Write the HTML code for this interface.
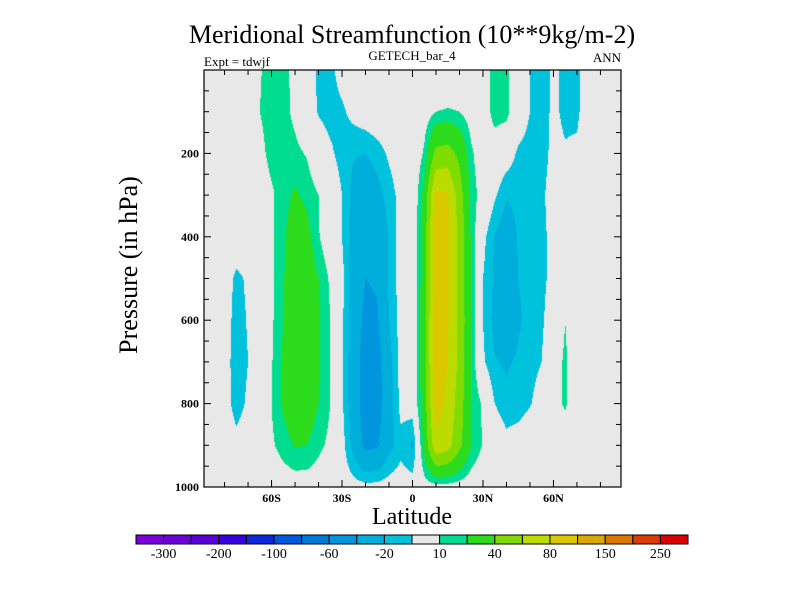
<!DOCTYPE html>
<html><head><meta charset="utf-8">
<style>
body{margin:0;background:#fff;}
#wrap{position:relative;width:800px;height:600px;overflow:hidden;font-family:"Liberation Serif",serif;}
svg{position:absolute;left:0;top:0;}
canvas{position:absolute;left:204px;top:70px;}
</style></head>
<body>
<div id="wrap">
<canvas id="cv" width="417" height="417"></canvas>
<svg id="sv" width="800" height="600" xmlns="http://www.w3.org/2000/svg">
<text x="412" y="43" font-size="26" text-anchor="middle" font-family="Liberation Serif">Meridional Streamfunction (10**9kg/m-2)</text>
<text x="412" y="60" font-size="13" text-anchor="middle" font-family="Liberation Serif">GETECH_bar_4</text>
<text x="204" y="66" font-size="13" font-family="Liberation Serif">Expt = tdwjf</text>
<text x="621" y="62" font-size="13" text-anchor="end" font-family="Liberation Serif">ANN</text>
<text transform="translate(137,265) rotate(-90)" font-size="26" text-anchor="middle" font-family="Liberation Serif">Pressure (in hPa)</text>
<text x="412" y="524" font-size="24" text-anchor="middle" font-family="Liberation Serif">Latitude</text>
<g id="axes"></g>
<g id="cbar"></g>
</svg>
</div>
<script>
const lats=[-90,-85,-80,-75,-70,-65,-60,-55,-50,-45,-40,-35,-30,-25,-20,-15,-10,-5,0,5,10,15,20,25,30,35,40,45,50,55,60,65,70,75,80,85,90];
const pressures=[0,100,200,300,400,500,600,700,800,900,1000];
const psi0  =[0,0,0,0,0,9,15,14,6,-4,-12,-13,-5,0,0,0,0,0,-4,0,0,0,0,0,2,15,14,-2,-10,-14,-8,-12,-12,-3,0,0,0];
const psi100=[0,0,0,0,0,10,15,14,7,-3,-11,-14,-12,-6,-2,0,0,0,-2,3,10,11,10,4,2,15,14,-2,-10,-14,-8,-12,-12,-3,0,0,0];
const psi200=[0,0,0,0,0,6,14,15,13,9,-2,-8,-14,-19,-20,-15,-8,-3,-2,12,45,48,35,12,2,2,-3,-12,-14,-14,-7,-9,-8,-2,0,0,0];
const psi300=[0,0,0,0,0,2,8,16,22,17,10,0,-10,-25,-32,-25,-15,-6,-2,25,85,82,50,15,5,-8,-19,-17,-14,-12,-5,0,0,0,0,0,0];
const psi400=[0,0,0,0,0,2,8,18,28,25,11,0,-10,-28,-40,-38,-18,-5,-2,30,92,82,55,18,-6,-21,-28,-19,-16,-13,-6,0,0,0,0,0,0];
const psi500=[0,0,-2,-13,-8,2,8,19,30,30,20,8,-6,-28,-40,-38,-18,-5,-2,30,92,82,55,18,-10,-22,-30,-20,-16,-13,-6,0,0,0,0,0,0];
const psi600=[0,0,-3,-15,-9,2,8,20,31,32,22,10,-8,-28,-45,-42,-20,-5,-2,32,95,82,55,20,-10,-24,-32,-22,-16,-12,-2,10,0,0,0,0,0];
const psi700=[0,0,-4,-16,-10,2,9,22,31,31,22,10,-8,-30,-50,-48,-25,-6,-3,32,95,80,55,18,-8,-19,-22,-18,-14,-10,4,12,0,0,0,0,0];
const psi800=[0,0,-4,-15,-8,3,10,22,30,30,20,10,-8,-30,-50,-48,-28,-6,-3,30,88,75,50,20,8,-10,-16,-15,-11,-4,5,12,0,0,0,0,0];
const psi900=[0,0,0,-6,-2,2,8,15,21,20,13,7,-5,-25,-45,-42,-25,-14,-22,25,75,68,45,20,9,0,-6,-4,0,0,0,0,0,0,0,0,0];
const psi1000=[0,0,0,0,0,0,0,2,3,3,2,0,-3,-5,-6,-6,-4,-3,-4,4,5,5,4,2,0,0,0,0,0,0,0,0,0,0,0,0,0];
const levels=[-300,-250,-200,-150,-100,-80,-60,-40,-20,-10,10,20,40,60,80,100,150,200,250];
const colorbarLabels=["-300","-200","-100","-60","-20","10","40","80","150","250"];
const colors=["#7c00dc","#6e00d8","#5800d8","#3800dc","#1028dc","#0058dc","#0078d4","#0095dc","#00aedc","#00c2dc","#e8e8e8","#00dc90","#2cdc1c","#80dc00","#bcdc00","#dcc800","#dca800","#dc7800","#dc3c00","#dc0000"];
const yTicks=[200,400,600,800,1000];
const xTicks=[-60,-30,0,30,60];
const xTickLabels=["60S","30S","0","30N","60N"];

const grid=[psi0,psi100,psi200,psi300,psi400,psi500,psi600,psi700,psi800,psi900,psi1000];
const PX=204,PY=70,PW=417,PH=417,LATMAX=88.75;
const xScale=lat=>PX+(lat+LATMAX)/(2*LATMAX)*PW;
const yScale=p=>PY+p/1000*PH;
function field(lat,p){
  let fi=(lat-lats[0])/(lats[1]-lats[0]); let fj=(p-pressures[0])/(pressures[1]-pressures[0]);
  fi=Math.max(0,Math.min(lats.length-1.0001,fi)); fj=Math.max(0,Math.min(pressures.length-1.0001,fj));
  const i=Math.floor(fi),j=Math.floor(fj),a=fi-i,b=fj-j;
  return (grid[j][i]*(1-a)+grid[j][i+1]*a)*(1-b)+(grid[j+1][i]*(1-a)+grid[j+1][i+1]*a)*b;
}
function hex(c){return [parseInt(c.substr(1,2),16),parseInt(c.substr(3,2),16),parseInt(c.substr(5,2),16)];}
const rgb=colors.map(hex);
const cv=document.getElementById('cv'),ctx=cv.getContext('2d');
const img=ctx.createImageData(PW,PH);
for(let y=0;y<PH;y++){const p=(y+0.5)/PH*1000;
  for(let x=0;x<PW;x++){const lat=-LATMAX+(x+0.5)/PW*2*LATMAX;
    const v=field(lat,p);let k=0;while(k<levels.length&&v>=levels[k])k++;
    const c=rgb[k],o=(y*PW+x)*4;img.data[o]=c[0];img.data[o+1]=c[1];img.data[o+2]=c[2];img.data[o+3]=255;}}
ctx.putImageData(img,0,0);

const NS='http://www.w3.org/2000/svg';
function mk(tag,attrs,parent){const e=document.createElementNS(NS,tag);for(const k in attrs)e.setAttribute(k,attrs[k]);parent.appendChild(e);return e;}
const ax=document.getElementById('axes');
const frame=mk('rect',{x:PX,y:PY,width:PW,height:PH,fill:'none',stroke:'#000','stroke-width':1.2},ax);


for(let p=50;p<1000;p+=50){const y=yScale(p),len=(p%200===0)?7:5;
  const t1=mk('line',{x1:PX,x2:PX+len,y1:y,y2:y,stroke:'#000'},ax);
  
  
  const t2=mk('line',{x1:PX+PW,x2:PX+PW-len,y1:y,y2:y,stroke:'#000'},ax);
  
  }
for(let lat=-80;lat<=80;lat+=10){const x=xScale(lat),len=(lat%30===0)?7:5;
  const t1=mk('line',{x1:x,x2:x,y1:PY+PH,y2:PY+PH-len,stroke:'#000'},ax);
  
  
  const t2=mk('line',{x1:x,x2:x,y1:PY,y2:PY+len,stroke:'#000'},ax);
  
  }
yTicks.forEach(p=>{const t=mk('text',{x:199,y:yScale(p)+4,'font-size':12,'font-weight':'bold','text-anchor':'end','font-family':'Liberation Serif'},ax);t.textContent=p;
  
  });
xTicks.forEach((l,i)=>{const t=mk('text',{x:xScale(l),y:502,'font-size':12,'font-weight':'bold','text-anchor':'middle','font-family':'Liberation Serif'},ax);t.textContent=xTickLabels[i];
  
  });
const cb=document.getElementById('cbar');
const CX=136,CW=552,CY=535,CH=9,bw=CW/colors.length;
colors.forEach((c,i)=>{const r=mk('rect',{x:CX+i*bw,y:CY,width:bw,height:CH,fill:c,stroke:'#000','stroke-width':1},cb);
  
  });
colorbarLabels.forEach((s,i)=>{const t=mk('text',{x:CX+(2*i+1)*bw,y:558,'font-size':14,'text-anchor':'middle','font-family':'Liberation Serif'},cb);t.textContent=s;
  
  });
</script>
</body></html>
